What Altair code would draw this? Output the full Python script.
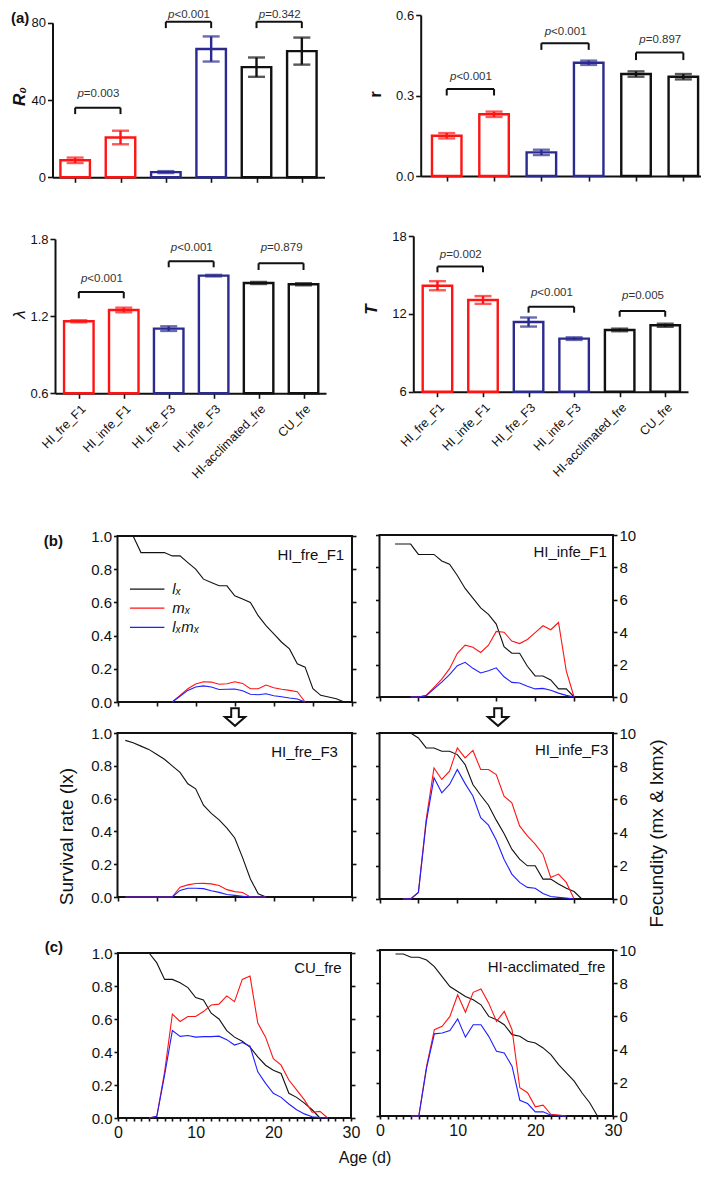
import altair as alt
import pandas as pd

# ---------------- (a) life-table parameters (mean, SE) ----------------
GROUPS = ["HI_fre_F1", "HI_infe_F1", "HI_fre_F3", "HI_infe_F3", "HI-acclimated_fre", "CU_fre"]
LINEAGE = ["F1", "F1", "F3", "F3", "ctrl", "ctrl"]
PAIRS = [(0, 1), (2, 3), (4, 5)]

R0_MEAN = [8.8, 20.6, 2.7, 66.4, 57.0, 65.3]
R0_SE = [1.4, 3.5, 0.5, 6.5, 5.0, 7.0]
R0_P = ["=0.003", "<0.001", "=0.342"]
R0_BRACKET = [36.0, 80.5, 80.5]
R0_LEG = [32.7, 77.2, 77.2]
R0_PTEXT = [43.0, 84.2, 84.2]

R_MEAN = [0.150, 0.230, 0.088, 0.422, 0.380, 0.370]
R_SE = [0.010, 0.010, 0.010, 0.008, 0.010, 0.010]
R_P = ["<0.001", "<0.001", "=0.897"]
R_BRACKET = [0.324, 0.495, 0.460]
R_LEG = [0.300, 0.470, 0.432]
R_PTEXT = [0.368, 0.536, 0.507]

LAM_MEAN = [1.160, 1.248, 1.103, 1.515, 1.458, 1.448]
LAM_SE = [0.008, 0.018, 0.018, 0.006, 0.008, 0.008]
LAM_P = ["<0.001", "<0.001", "=0.879"]
LAM_BRACKET = [1.388, 1.626, 1.611]
LAM_LEG = [1.339, 1.580, 1.559]
LAM_PTEXT = [1.489, 1.730, 1.732]

T_MEAN = [14.17, 13.07, 11.37, 10.09, 10.76, 11.12]
T_SE = [0.35, 0.30, 0.35, 0.10, 0.10, 0.12]
T_P = ["=0.002", "<0.001", "=0.005"]
T_BRACKET = [15.64, 12.55, 12.22]
T_LEG = [15.20, 12.09, 11.78]
T_PTEXT = [16.54, 13.59, 13.40]

# ---------------- (b)/(c) age-specific survival and fecundity ----------------
SERIES = ["lₓ", "mₓ", "lₓmₓ"]

HFF1_LX_START = 2
HFF1_LX = [1.0, 0.9, 0.9, 0.9, 0.9, 0.88, 0.88, 0.84, 0.80, 0.74, 0.72, 0.70, 0.70, 0.64,
           0.62, 0.60, 0.52, 0.46, 0.41, 0.36, 0.32, 0.23, 0.21, 0.08, 0.04, 0.03, 0.02, 0.0]
HFF1_FEC_START = 7
HFF1_MX = [0, 0.4, 0.8, 1.08, 1.22, 1.2, 1.07, 1.1, 1.22, 1.12, 0.8, 0.8, 1.02, 0.86, 0.77, 0.7, 0.62, 0]
HFF1_LXMX = [0, 0.35, 0.7, 0.9, 0.97, 0.9, 0.75, 0.77, 0.78, 0.68, 0.47, 0.44, 0.5, 0.38, 0.32, 0.24, 0.18, 0]

HIF1_LX_START = 2
HIF1_LX = [0.944, 0.944, 0.944, 0.88, 0.88, 0.88, 0.84, 0.82, 0.75, 0.67, 0.61, 0.55, 0.51, 0.45,
           0.31, 0.27, 0.27, 0.19, 0.13, 0.13, 0.105, 0.05, 0.05, 0.0]
HIF1_FEC_START = 4
HIF1_MX = [0, 0, 0.1, 0.6, 1.1, 1.75, 2.7, 3.2, 3.07, 2.75, 3.2, 4.05, 4.0, 3.45, 3.3, 3.55,
           3.97, 4.4, 4.15, 4.6, 1.6, 0]
HIF1_LXMX = [0, 0, 0.08, 0.5, 0.92, 1.38, 1.93, 2.14, 1.77, 1.48, 1.62, 1.8, 1.25, 0.9, 0.86,
             0.66, 0.5, 0.53, 0.42, 0.24, 0.1, 0]

HFF3_LX_START = 1
HFF3_LX = [0.955, 0.94, 0.92, 0.90, 0.87, 0.84, 0.80, 0.76, 0.69, 0.66, 0.56, 0.51, 0.47, 0.42,
           0.36, 0.24, 0.11, 0.02, 0.0]
HFF3_FEC_START = 1
HFF3_MX = [0, 0, 0, 0, 0, 0, 0, 0.6, 0.74, 0.82, 0.83, 0.8, 0.7, 0.45, 0.33, 0.27, 0, 0, 0]
HFF3_LXMX = [0, 0, 0, 0, 0, 0, 0, 0.4, 0.53, 0.53, 0.51, 0.38, 0.28, 0.15, 0.1, 0.05, 0, 0, 0]

HIF3_LX_START = 0
HIF3_LX = [1.0, 1.0, 1.0, 1.0, 1.0, 0.97, 0.91, 0.91, 0.89, 0.89, 0.87, 0.81, 0.69, 0.625, 0.565,
           0.475, 0.395, 0.3, 0.24, 0.2, 0.2, 0.12, 0.12, 0.09, 0.065, 0.045, 0.0]
HIF3_FEC_START = 3
HIF3_MX = [0, 0, 0.4, 4.8, 7.9, 7.2, 7.7, 9.1, 8.5, 8.95, 7.8, 7.8, 7.5, 6.2, 5.8, 4.4, 3.8, 3.3,
           2.7, 1.3, 1.5, 1.0, 0]
HIF3_LXMX = [0, 0, 0.4, 4.6, 7.3, 6.4, 6.9, 7.8, 6.95, 6.2, 4.9, 4.45, 3.55, 2.4, 1.5, 1.0, 0.7,
             0.65, 0.33, 0.15, 0.1, 0.06, 0]

CU_LX_START = 0
CU_LX = [1.0, 1.0, 1.0, 1.0, 1.0, 0.94, 0.84, 0.84, 0.82, 0.79, 0.73, 0.715, 0.635, 0.6, 0.53,
         0.49, 0.465, 0.43, 0.37, 0.32, 0.29, 0.27, 0.15, 0.125, 0.09, 0.05, 0.0]
CU_FEC_START = 4
CU_MX = [0, 0.1, 2.8, 6.3, 5.85, 6.15, 6.15, 6.45, 6.85, 6.9, 7.4, 7.05, 8.4, 8.6, 5.75, 4.9, 3.6,
         3.2, 2.3, 1.7, 1.1, 0.35, 0.4, 0]
CU_LXMX = [0, 0.1, 2.6, 5.3, 4.95, 5.0, 4.9, 4.93, 4.93, 4.96, 4.75, 4.42, 4.57, 4.35, 2.8, 2.1,
           1.5, 1.25, 0.85, 0.5, 0.25, 0.08, 0.02, 0]

HA_LX_START = 2
HA_LX = [0.976, 0.976, 0.956, 0.956, 0.94, 0.9, 0.84, 0.78, 0.75, 0.72, 0.7, 0.67, 0.6, 0.58, 0.55,
         0.49, 0.48, 0.45, 0.44, 0.41, 0.37, 0.31, 0.26, 0.21, 0.14, 0.08, 0.0]
HA_FEC_START = 4
HA_MX = [0, 0, 3.0, 5.2, 5.4, 6.0, 7.3, 6.25, 7.45, 7.65, 6.8, 5.7, 6.3, 5.2, 1.7, 1.4, 0.55, 0.65,
         0.1, 0.05, 0]
HA_LXMX = [0, 0, 2.9, 4.95, 5.0, 5.15, 5.85, 4.75, 5.5, 5.5, 4.8, 3.9, 3.8, 3.0, 0.95, 0.75, 0.25,
           0.25, 0.05, 0.0, 0]

LX_TICKS = [0.0, 0.2, 0.4, 0.6, 0.8, 1.0]
FEC_TICKS = [0, 2, 4, 6, 8, 10]
AGE_DOMAIN = [0, 30]
LEGEND_Y = [0.68, 0.565, 0.45]
LEGEND_X = [1.6, 6.0, 7.0]

# ---------------- layout / style (page pixels) ----------------
W, H = 693, 1163
OFF = 8


def P(v):
    return v - OFF


RED = "#ff1414"
NAVY = "#2b2b8f"
BLACK = "#111111"
BLUE = "#1f1fff"
GRAY = "#333333"
FONT = "Liberation Sans"
NARROW = "Liberation Sans Narrow, Liberation Sans, Arial, sans-serif"

BAR_GEO = {
    "R0": dict(xr=(52.5, 324.5), xdom=(-0.5, 5.5), yr=(177.3, 22.7), ydom=(0, 80), ticks=[0, 40, 80],
               fmt="d", title="R₀", tpos=(19, 96), weight="bold", style="italic"),
    "r": dict(xr=(420.7, 707.0), xdom=(-0.55, 5.5), yr=(176.0, 15.0), ydom=(0, 0.6), ticks=[0, 0.3, 0.6],
              fmt=".1f", title="r", tpos=(375, 94), weight="bold", style="normal"),
    "lam": dict(xr=(55.0, 326.0), xdom=(-0.53, 5.5), yr=(393.3, 239.0), ydom=(0.6, 1.8),
                ticks=[0.6, 1.2, 1.8], fmt=".1f", title="λ", tpos=(19, 314), weight="normal",
                style="italic"),
    "T": dict(xr=(413.3, 688.0), xdom=(-0.53, 5.5), yr=(391.7, 236.0), ydom=(6, 18), ticks=[6, 12, 18],
              fmt="d", title="T", tpos=(371, 309), weight="bold", style="italic"),
}

LINE_GEO = {
    "L1": dict(x=(117.5, 352.0), y=(702.0, 536.0)),
    "R1": dict(x=(379.5, 613.0), y=(697.0, 535.0)),
    "L2": dict(x=(117.5, 352.0), y=(897.0, 733.0)),
    "R2": dict(x=(379.5, 613.0), y=(899.0, 733.0)),
    "L3": dict(x=(118.0, 351.0), y=(1118.0, 953.0)),
    "R3": dict(x=(380.0, 613.0), y=(1116.0, 950.0)),
}


def bar_panel(mean, se, base, pvals, br_y, leg_y, txt_y, g, show_labels):
    df = pd.DataFrame({"pos": list(range(len(GROUPS))), "group": GROUPS, "lineage": LINEAGE,
                       "mean": mean, "se": se})
    df["lo"] = df["mean"] - df["se"]
    df["hi"] = df["mean"] + df["se"]
    df["base"] = base
    xs = alt.Scale(domain=list(g["xdom"]), range=[P(g["xr"][0]), P(g["xr"][1])], nice=False,
                   zero=False, padding=0)
    ys = alt.Scale(domain=list(g["ydom"]), range=[P(g["yr"][0]), P(g["yr"][1])], nice=False,
                   zero=False, padding=0)
    lin = alt.Scale(domain=["F1", "F3", "ctrl"], range=[RED, NAVY, BLACK])
    names = "[" + ",".join("'%s'" % n for n in GROUPS) + "]"
    xaxis = alt.Axis(orient="bottom", offset=P(g["yr"][0]) - H, values=list(range(len(GROUPS))),
                     labels=show_labels, labelExpr=names + "[datum.value]", labelAngle=315,
                     labelAlign="right", labelBaseline="top", labelPadding=4, labelFontSize=12.5,
                     labelFlush=False, labelOverlap=False, tickSize=5, title=None)
    yaxis = alt.Axis(orient="left", offset=-P(g["xr"][0]), values=g["ticks"], format=g["fmt"],
                     tickSize=5, labelPadding=2, labelFontSize=13, title=g["title"], titleAngle=270,
                     titleX=g["tpos"][0] - g["xr"][0], titleY=P(g["tpos"][1]), titleAlign="center",
                     titleBaseline="middle", titleFontSize=17, titleFontWeight=g["weight"],
                     titleFontStyle=g["style"])

    def X(f):
        return alt.X(f, scale=xs, axis=xaxis)

    def Y(f):
        return alt.Y(f, scale=ys, axis=yaxis)

    colr = alt.Color("lineage:N", scale=lin, legend=None)
    bars = alt.Chart(df).mark_bar(size=29.5, fill="white", strokeWidth=2.4).encode(
        x=X("pos:Q"), y=Y("mean:Q"), y2="base:Q",
        stroke=alt.Stroke("lineage:N", scale=lin, legend=None))
    err = alt.Chart(df).mark_rule(strokeWidth=2.4).encode(
        x=X("pos:Q"), y=Y("lo:Q"), y2="hi:Q", color=colr)
    cap_lo = alt.Chart(df).mark_tick(orient="horizontal", size=17, thickness=2.4).encode(
        x=X("pos:Q"), y=Y("lo:Q"), color=colr)
    cap_hi = alt.Chart(df).mark_tick(orient="horizontal", size=17, thickness=2.4).encode(
        x=X("pos:Q"), y=Y("hi:Q"), color=colr)

    bdf = pd.DataFrame({"x1": [a for a, b in PAIRS], "x2": [b for a, b in PAIRS],
                        "yb": br_y, "yl": leg_y, "yt": txt_y, "p": pvals})
    bdf["xm"] = (bdf["x1"] + bdf["x2"]) / 2
    hz = alt.Chart(bdf).mark_rule(strokeWidth=2, color=BLACK).encode(
        x=X("x1:Q"), x2="x2:Q", y=Y("yb:Q"))
    lg1 = alt.Chart(bdf).mark_rule(strokeWidth=2, color=BLACK).encode(
        x=X("x1:Q"), y=Y("yl:Q"), y2="yb:Q")
    lg2 = alt.Chart(bdf).mark_rule(strokeWidth=2, color=BLACK).encode(
        x=X("x2:Q"), y=Y("yl:Q"), y2="yb:Q")
    pt = alt.Chart(bdf).mark_text(text="p", font=FONT, fontSize=11.5, fontStyle="italic",
                                  align="right", baseline="middle", dx=-14, color=GRAY).encode(
        x=X("xm:Q"), y=Y("yt:Q"))
    vt = alt.Chart(bdf).mark_text(font=FONT, fontSize=11.5, align="left", baseline="middle",
                                  dx=-14, color=GRAY).encode(
        x=X("xm:Q"), y=Y("yt:Q"), text="p:N")
    return alt.layer(bars, err, cap_lo, cap_hi, hz, lg1, lg2, pt, vt)


def series_frame(start, values, name):
    return pd.DataFrame({"day": list(range(start, start + len(values))), "val": values,
                         "series": name})


def line_panel(name, lx_start, lx, fec_start, mx, lxmx, geo, side, bottom_labels, title_xy,
               legend=False, ytitle=None):
    x0, x1 = geo["x"]
    y0, y1 = geo["y"]
    xs = alt.Scale(domain=AGE_DOMAIN, range=[P(x0), P(x1)], nice=False, zero=False, padding=0)
    yl = alt.Scale(domain=[0, 1], range=[P(y0), P(y1)], nice=False, zero=False, padding=0)
    yr = alt.Scale(domain=[0, 10], range=[P(y0), P(y1)], nice=False, zero=False, padding=0)
    col = alt.Scale(domain=SERIES, range=[BLACK, RED, BLUE])
    if bottom_labels:
        xaxis = alt.Axis(orient="bottom", offset=P(y0) - H, values=list(range(0, 31)), tickSize=3,
                         labelExpr="datum.value % 10 == 0 ? datum.label : ''", labelFontSize=16,
                         labelFont=NARROW, labelPadding=3, labelFlush=False, labelOverlap=False,
                         domain=False, title=None)
    else:
        xaxis = alt.Axis(orient="bottom", offset=P(y0) - H, values=list(range(0, 31, 5)),
                         tickSize=4, labels=False, domain=False, title=None)
    lkw = dict(orient="left", offset=-P(x0), values=LX_TICKS, format=".1f", labels=(side == "L"),
               tickSize=4, labelPadding=2, labelFontSize=15, labelFont=NARROW, domain=False)
    rkw = dict(orient="right", offset=P(x1) - W, values=FEC_TICKS, format="d",
               labels=(side == "R"), tickSize=4, labelPadding=2, labelFontSize=15,
               labelFont=NARROW, domain=False)
    if ytitle is not None and side == "L":
        lkw.update(title=ytitle, titleAngle=270, titleX=66 - x0, titleY=P(836), titleAlign="center",
                   titleBaseline="middle", titleFontSize=19, titleFontWeight="normal")
    else:
        lkw.update(title=None)
    if ytitle is not None and side == "R":
        rkw.update(title=ytitle, titleAngle=270, titleX=656 - x1, titleY=P(833), titleAlign="center",
                   titleBaseline="middle", titleFontSize=19, titleFontWeight="normal")
    else:
        rkw.update(title=None)
    lax = alt.Axis(**lkw)
    rax = alt.Axis(**rkw)

    def X(f):
        return alt.X(f, scale=xs, axis=xaxis)

    def YL(f):
        return alt.Y(f, scale=yl, axis=lax)

    colr = alt.Color("series:N", scale=col, legend=None)
    frame_df = pd.DataFrame({"x0": [AGE_DOMAIN[0]], "x1": [AGE_DOMAIN[1]], "y0": [0.0], "y1": [1.0]})
    frame = alt.Chart(frame_df).mark_rect(fillOpacity=0, stroke=BLACK, strokeWidth=2).encode(
        x=X("x0:Q"), x2="x1:Q", y=YL("y0:Q"), y2="y1:Q")
    lx_df = series_frame(lx_start, lx, SERIES[0])
    fec_df = pd.concat([series_frame(fec_start, mx, SERIES[1]),
                        series_frame(fec_start, lxmx, SERIES[2])], ignore_index=True)
    lx_line = alt.Chart(lx_df).mark_line(strokeWidth=1.1).encode(
        x=X("day:Q"), y=YL("val:Q"), color=colr)
    tdf = pd.DataFrame({"label": [name], "tx": [title_xy[0]], "ty": [title_xy[1]]})
    title_t = alt.Chart(tdf).mark_text(font=FONT, fontSize=15, align="right", baseline="middle",
                                       color=BLACK).encode(
        x=X("tx:Q"), y=YL("ty:Q"), text="label:N")
    layers = [frame, lx_line, title_t]
    if legend:
        ldf = pd.DataFrame({"series": SERIES, "ly": LEGEND_Y, "a": LEGEND_X[0], "b": LEGEND_X[1],
                            "t": LEGEND_X[2]})
        layers.append(alt.Chart(ldf).mark_rule(strokeWidth=1.3).encode(
            x=X("a:Q"), x2="b:Q", y=YL("ly:Q"), color=colr))
        layers.append(alt.Chart(ldf).mark_text(font=FONT, fontSize=15, fontStyle="italic",
                                               align="left", baseline="middle", color=BLACK).encode(
            x=X("t:Q"), y=YL("ly:Q"), text="series:N"))
    fec = alt.Chart(fec_df).mark_line(strokeWidth=1.1).encode(
        x=X("day:Q"), y=alt.Y("val:Q", scale=yr, axis=rax), color=colr)
    return alt.layer(alt.layer(*layers), fec).resolve_scale(y="independent").resolve_axis(
        y="independent")


panels = [
    bar_panel(R0_MEAN, R0_SE, 0, R0_P, R0_BRACKET, R0_LEG, R0_PTEXT, BAR_GEO["R0"], False),
    bar_panel(R_MEAN, R_SE, 0, R_P, R_BRACKET, R_LEG, R_PTEXT, BAR_GEO["r"], False),
    bar_panel(LAM_MEAN, LAM_SE, 0.6, LAM_P, LAM_BRACKET, LAM_LEG, LAM_PTEXT, BAR_GEO["lam"], True),
    bar_panel(T_MEAN, T_SE, 6, T_P, T_BRACKET, T_LEG, T_PTEXT, BAR_GEO["T"], True),
    line_panel("HI_fre_F1", HFF1_LX_START, HFF1_LX, HFF1_FEC_START, HFF1_MX, HFF1_LXMX,
               LINE_GEO["L1"], "L", False, (29.0, 0.886), legend=True),
    line_panel("HI_infe_F1", HIF1_LX_START, HIF1_LX, HIF1_FEC_START, HIF1_MX, HIF1_LXMX,
               LINE_GEO["R1"], "R", False, (29.2, 0.897)),
    line_panel("HI_fre_F3", HFF3_LX_START, HFF3_LX, HFF3_FEC_START, HFF3_MX, HFF3_LXMX,
               LINE_GEO["L2"], "L", False, (28.2, 0.886), ytitle="Survival rate (lx)"),
    line_panel("HI_infe_F3", HIF3_LX_START, HIF3_LX, HIF3_FEC_START, HIF3_MX, HIF3_LXMX,
               LINE_GEO["R2"], "R", False, (29.4, 0.898), ytitle="Fecundity (mx & lxmx)"),
    line_panel("CU_fre", CU_LX_START, CU_LX, CU_FEC_START, CU_MX, CU_LXMX,
               LINE_GEO["L3"], "L", True, (28.8, 0.907)),
    line_panel("HI-acclimated_fre", HA_LX_START, HA_LX, HA_FEC_START, HA_MX, HA_LXMX,
               LINE_GEO["R3"], "R", True, (29.0, 0.90)),
]


def note(text, x, y, size, weight="normal", align="center"):
    return alt.Chart(pd.DataFrame({"t": [text]})).mark_text(
        font=FONT, fontSize=size, fontWeight=weight, align=align, baseline="middle",
        color=BLACK).encode(x=alt.value(P(x)), y=alt.value(P(y)), text="t:N")


ARROW = "M-0.3,-0.7L0.3,-0.7L0.3,0L0.8,0L0,0.7L-0.8,0L-0.3,0Z"


def arrow(x, y):
    return alt.Chart(pd.DataFrame({"k": [1]})).mark_point(
        shape=ARROW, size=640, filled=True, fill="white", stroke=BLACK, strokeWidth=2,
        opacity=1).encode(x=alt.value(P(x)), y=alt.value(P(y)))


notes = [
    note("(a)", 11, 18, 15, "bold", "left"),
    note("(b)", 63, 541, 15, "bold", "right"),
    note("(c)", 63, 947, 15, "bold", "right"),
    arrow(235, 717),
    arrow(498, 717),
    note("Age (d)", 365, 1158, 16),
]

chart = alt.layer(*panels, *notes).resolve_scale(
    x="independent", y="independent", color="independent", stroke="independent"
).resolve_axis(x="independent", y="independent").properties(
    width=W, height=H, padding=0, autosize=alt.AutoSizeParams(type="none")
).configure_view(strokeWidth=0, strokeOpacity=0).configure_axis(
    grid=False, domainColor=BLACK, domainWidth=2, tickColor=BLACK, tickWidth=1.6,
    labelColor=BLACK, labelFont=FONT, titleFont=FONT, titleColor=BLACK
)

chart.save("out.html", embed_options={"renderer": "svg", "actions": False})
